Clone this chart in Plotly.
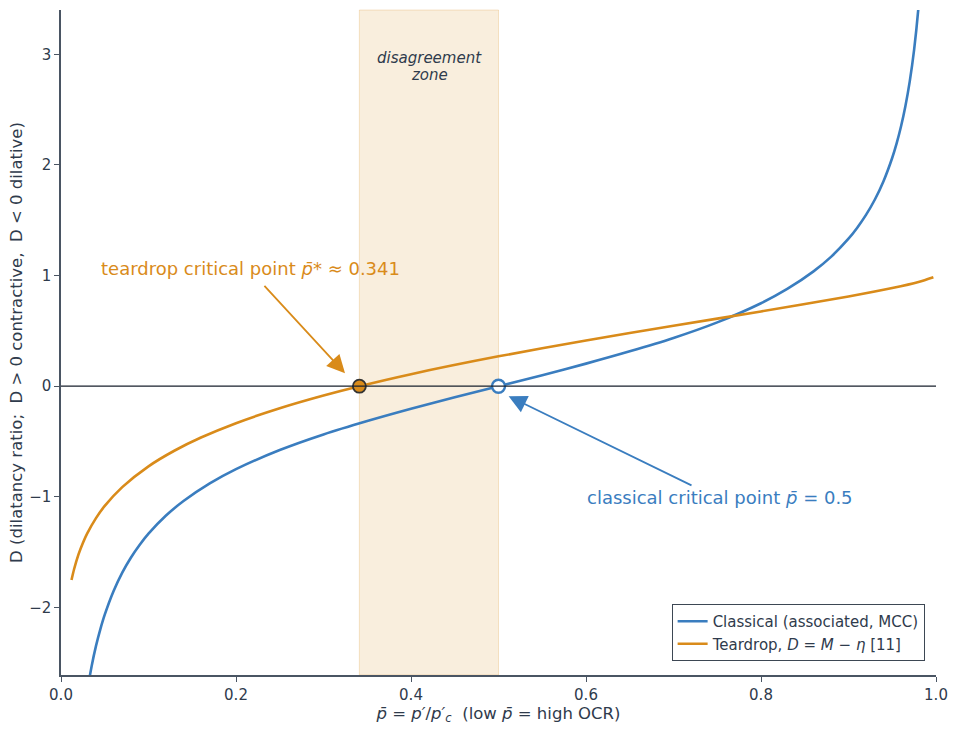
import plotly.graph_objects as go

# ---- data ----
pbar_classical = [0.03, 0.035, 0.04, 0.045, 0.05, 0.06, 0.07, 0.08, 0.09, 0.10, 0.12, 0.14,
                  0.17, 0.20, 0.25, 0.30, 0.35, 0.40, 0.45, 0.50, 0.55, 0.60, 0.65, 0.70,
                  0.75, 0.80, 0.83, 0.86, 0.88, 0.90, 0.91, 0.92, 0.93, 0.94, 0.95, 0.955,
                  0.96, 0.965, 0.97, 0.975, 0.98, 0.985]
D_classical = [-2.755, -2.530, -2.347, -2.195, -2.065, -1.853, -1.685, -1.548, -1.433, -1.333,
               -1.169, -1.038, -0.879, -0.750, -0.577, -0.436, -0.315, -0.204, -0.100, 0.0,
               0.100, 0.204, 0.315, 0.436, 0.577, 0.750, 0.879, 1.038, 1.169, 1.333, 1.433,
               1.548, 1.685, 1.853, 2.065, 2.195, 2.347, 2.530, 2.755, 3.042, 3.429, 3.990]

pbar_teardrop = [0.012, 0.015, 0.02, 0.025, 0.03, 0.04, 0.05, 0.07, 0.10, 0.13, 0.16, 0.20,
                 0.25, 0.30, 0.341, 0.40, 0.50, 0.60, 0.70, 0.80, 0.90, 0.95, 0.98, 0.997]
D_teardrop = [-1.752, -1.652, -1.520, -1.416, -1.330, -1.192, -1.082, -0.912, -0.724, -0.581,
              -0.464, -0.334, -0.199, -0.084, 0.0, 0.109, 0.270, 0.413, 0.546, 0.676, 0.811,
              0.887, 0.942, 0.985]

p_crit_teardrop = 0.341
p_crit_classical = 0.5
x_ticks = [0.0, 0.2, 0.4, 0.6, 0.8, 1.0]
x_ticklabels = ["0.0", "0.2", "0.4", "0.6", "0.8", "1.0"]
y_ticks = [-2, -1, 0, 1, 2, 3]

BLUE = "#3a7dbf"
ORANGE = "#d98b1a"
TXT = "#2f3b4c"
SPINE = "#4a5563"
FONT = "DejaVu Sans"

fig = go.Figure()

# disagreement zone
fig.add_shape(type="rect", xref="x", yref="paper", x0=p_crit_teardrop, x1=p_crit_classical,
              y0=0, y1=1, fillcolor="rgba(217,139,26,0.15)",
              line=dict(color="rgba(217,139,26,0.22)", width=1), layer="below")

# zero line
fig.add_shape(type="line", xref="paper", yref="y", x0=0, x1=1, y0=0, y1=0,
              line=dict(color="#18212d", width=1.2), layer="above")

fig.add_trace(go.Scatter(x=pbar_classical, y=D_classical, mode="lines",
                         line=dict(color=BLUE, width=2.6, shape="spline", smoothing=0.8),
                         name="Classical (associated, MCC)"))
fig.add_trace(go.Scatter(x=pbar_teardrop, y=D_teardrop, mode="lines",
                         line=dict(color=ORANGE, width=2.6, shape="spline", smoothing=0.8),
                         name="Teardrop, <i>D</i> = <i>M</i> − <i>η</i> [11]"))

fig.add_trace(go.Scatter(x=[p_crit_teardrop], y=[0], mode="markers", showlegend=False,
                         marker=dict(size=13, color=ORANGE, line=dict(color="#333333", width=1.8))))
fig.add_trace(go.Scatter(x=[p_crit_classical], y=[0], mode="markers", showlegend=False,
                         marker=dict(size=13, color="white", line=dict(color=BLUE, width=2.4))))

# arrows
fig.add_annotation(x=0.3246, y=0.117, ax=0.2309, ay=0.921, xref="x", yref="y",
                   axref="x", ayref="y", text="", showarrow=True, arrowhead=2,
                   arrowsize=2.0, arrowwidth=1.8, arrowcolor=ORANGE, standoff=0)
fig.add_annotation(x=0.5116, y=-0.09, ax=0.7223, ay=-0.903, xref="x", yref="y",
                   axref="x", ayref="y", text="", showarrow=True, arrowhead=2,
                   arrowsize=2.0, arrowwidth=1.8, arrowcolor=BLUE, standoff=0)

# texts
fig.add_annotation(x=0.2166, y=1.066, xref="x", yref="y", showarrow=False,
                   text="teardrop critical point <i>p̄</i>* ≈ 0.341",
                   font=dict(family=FONT, size=18, color=ORANGE),
                   xanchor="center", yanchor="middle")
fig.add_annotation(x=0.7531, y=-1.003, xref="x", yref="y", showarrow=False,
                   text="classical critical point <i>p̄</i> = 0.5",
                   font=dict(family=FONT, size=18, color=BLUE),
                   xanchor="center", yanchor="middle")
fig.add_annotation(x=0.4206, y=2.964, xref="x", yref="y", showarrow=False,
                   text="<i>disagreement</i>",
                   font=dict(family=FONT, size=15, color=TXT),
                   xanchor="center", yanchor="middle")
fig.add_annotation(x=0.4206, y=2.815, xref="x", yref="y", showarrow=False,
                   text="<i>zone</i>",
                   font=dict(family=FONT, size=15, color=TXT),
                   xanchor="center", yanchor="middle")

fig.update_layout(
    width=957, height=730,
    margin=dict(l=61, r=21, t=10, b=55),
    paper_bgcolor="white", plot_bgcolor="white",
    font=dict(family=FONT, size=15, color=TXT),
    showlegend=True,
    legend=dict(x=0.987, y=0.021, xanchor="right", yanchor="bottom",
                bgcolor="rgba(255,255,255,0.9)", bordercolor="#3d4754", borderwidth=1,
                font=dict(family=FONT, size=15, color=TXT), tracegroupgap=0,
                itemwidth=30),
    xaxis=dict(range=[0, 1], tickvals=x_ticks, ticktext=x_ticklabels,
               showgrid=False, zeroline=False, showline=True, linecolor=SPINE, linewidth=1.5,
               ticks="outside", ticklen=5, tickcolor=SPINE, tickfont=dict(size=15, color=TXT),
               title=dict(text="<i>p̄</i> = <i>p′</i>/<i>p′</i><sub><i>c</i></sub>  (low <i>p̄</i> = high OCR)",
                          font=dict(size=16.5, color=TXT), standoff=4)),
    yaxis=dict(range=[-2.61, 3.4], tickvals=y_ticks,
               showgrid=False, zeroline=False, showline=True, linecolor=SPINE, linewidth=1.5,
               ticks="outside", ticklen=5, tickcolor=SPINE, tickfont=dict(size=15, color=TXT),
               title=dict(text="D (dilatancy ratio;  D > 0 contractive,  D < 0 dilative)",
                          font=dict(size=16.5, color=TXT), standoff=2)),
)

fig.write_html("out.html")
